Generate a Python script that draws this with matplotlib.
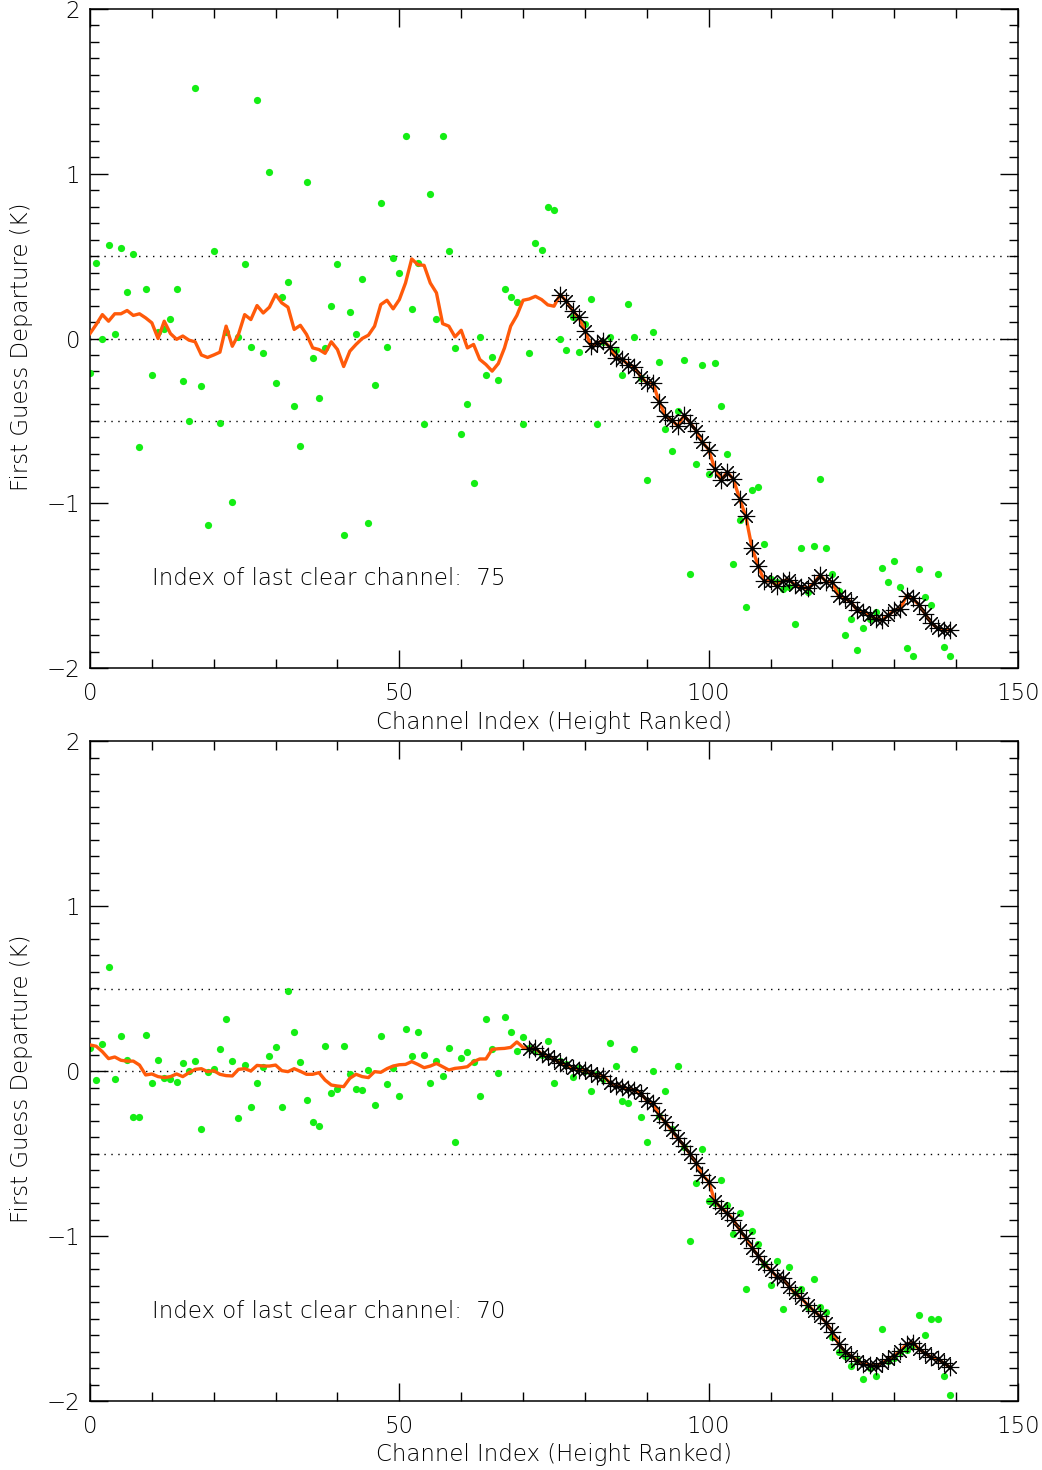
import numpy as np
import matplotlib
matplotlib.use("Agg")
import matplotlib.pyplot as plt

# Channel index (height ranked) and the last clear channel for each profile
channels = np.arange(140)
last_clear_1 = 75
last_clear_2 = 70

# Profile 1: observed first guess departures (K) per channel
obs_1 = [
    -0.21, 0.46, 0.00, 0.57, 0.03, 0.55, 0.28, 0.51, -0.66, 0.30,
    -0.22, 0.04, 0.06, 0.12, 0.30, -0.26, -0.50, 1.52, -0.29, -1.13,
    0.53, -0.51, 0.04, -0.99, 0.01, 0.45, -0.05, 1.45, -0.09, 1.01,
    -0.27, 0.25, 0.34, -0.41, -0.65, 0.95, -0.12, -0.36, -0.06, 0.20,
    0.45, -1.19, 0.16, 0.03, 0.36, -1.12, -0.28, 0.82, -0.05, 0.49,
    0.40, 1.23, 0.18, 0.46, -0.52, 0.88, 0.12, 1.23, 0.53, -0.06,
    -0.58, -0.40, -0.88, 0.01, -0.22, -0.11, -0.25, 0.30, 0.25, 0.22,
    -0.52, -0.09, 0.58, 0.54, 0.80, 0.78, 0.00, -0.07, 0.13, -0.08,
    0.09, 0.24, -0.52, -0.02, 0.01, -0.07, -0.22, 0.21, 0.01, -0.24,
    -0.86, 0.04, -0.14, -0.55, -0.68, -0.44, -0.13, -1.43, -0.76, -0.16,
    -0.82, -0.15, -0.41, -0.70, -1.37, -1.10, -1.63, -0.92, -0.90, -1.25,
    -1.46, -1.48, -1.52, -1.51, -1.73, -1.27, -1.54, -1.26, -0.85, -1.27,
    -1.43, -1.53, -1.80, -1.70, -1.89, -1.76, -1.70, -1.66, -1.39, -1.48,
    -1.35, -1.51, -1.88, -1.93, -1.40, -1.57, -1.62, -1.43, -1.87, -1.93,
]

# Profile 1: smoothed departures (K)
smooth_1 = [
    0.03, 0.085, 0.145, 0.105, 0.15, 0.15, 0.17, 0.14, 0.15, 0.125,
    0.095, 0.0, 0.105, 0.03, -0.005, 0.015, -0.01, -0.02, -0.10, -0.115,
    -0.10, -0.083, 0.075, -0.047, 0.025, 0.145, 0.115, 0.20, 0.155, 0.19,
    0.267, 0.216, 0.19, 0.055, 0.08, 0.025, -0.057, -0.067, -0.09, -0.02,
    -0.067, -0.17, -0.077, -0.036, 0.0, 0.02, 0.075, 0.206, 0.232, 0.18,
    0.236, 0.337, 0.483, 0.448, 0.444, 0.337, 0.277, 0.09, 0.075, 0.01,
    0.05, -0.057, -0.036, -0.127, -0.158, -0.198, -0.152, -0.057, 0.075, 0.14,
    0.232, 0.24, 0.256, 0.236, 0.204, 0.196, 0.267, 0.226, 0.168, 0.128,
    0.048, -0.046, -0.026, -0.016, -0.05, -0.12, -0.127, -0.158, -0.172, -0.232,
    -0.268, -0.273, -0.384, -0.47, -0.495, -0.53, -0.467, -0.511, -0.562, -0.63,
    -0.675, -0.792, -0.859, -0.81, -0.855, -0.972, -1.08, -1.27, -1.38, -1.473,
    -1.47, -1.50, -1.47, -1.465, -1.497, -1.51, -1.517, -1.485, -1.436, -1.477,
    -1.477, -1.566, -1.578, -1.598, -1.65, -1.66, -1.68, -1.70, -1.71, -1.68,
    -1.65, -1.64, -1.56, -1.578, -1.618, -1.673, -1.727, -1.76, -1.768, -1.768,
]

# Profile 2: observed first guess departures (K) per channel
obs_2 = [
    0.14, -0.055, 0.164, 0.632, -0.048, 0.214, 0.067, -0.277, -0.279, 0.22,
    -0.075, 0.069, -0.044, -0.046, -0.067, 0.046, 0.0, 0.06, -0.35, -0.004,
    0.014, 0.133, 0.313, 0.06, -0.287, 0.034, -0.216, -0.071, 0.026, 0.093,
    0.147, -0.218, 0.485, 0.234, 0.055, -0.176, -0.307, -0.335, 0.152, -0.131,
    -0.107, 0.154, -0.02, -0.109, -0.117, 0.004, -0.208, 0.214, -0.079, 0.016,
    -0.15, 0.255, 0.091, 0.234, 0.097, -0.075, 0.063, -0.032, 0.137, -0.428,
    0.081, 0.115, 0.057, -0.15, 0.315, 0.131, -0.014, 0.325, 0.234, 0.121,
    0.208, 0.14, 0.12, 0.10, 0.184, -0.075, 0.06, 0.04, -0.034, 0.02,
    0.0, -0.119, -0.02, -0.05, 0.168, 0.032, -0.184, -0.196, 0.131, -0.277,
    -0.43, 0.002, -0.27, -0.119, -0.35, 0.032, -0.46, -1.03, -0.68, -0.47,
    -0.79, -0.80, -0.66, -0.81, -0.99, -0.86, -1.32, -0.97, -1.05, -1.17,
    -1.295, -1.15, -1.44, -1.19, -1.34, -1.32, -1.43, -1.26, -1.43, -1.46,
    -1.61, -1.70, -1.73, -1.79, -1.75, -1.865, -1.80, -1.85, -1.565, -1.76,
    -1.74, -1.70, -1.69, -1.66, -1.48, -1.60, -1.505, -1.505, -1.85, -1.965,
]

# Profile 2: smoothed departures (K)
smooth_2 = [
    0.158, 0.15, 0.117, 0.075, 0.085, 0.065, 0.06, 0.06, 0.036, -0.024,
    -0.018, -0.034, -0.04, -0.034, -0.018, -0.034, -0.01, 0.01, 0.014, -0.004,
    0.002, -0.02, -0.028, -0.03, 0.01, 0.014, 0.0, 0.034, 0.03, 0.03,
    0.036, 0.002, -0.004, 0.014, -0.002, -0.02, -0.02, -0.01, -0.055, -0.085,
    -0.091, -0.095, -0.044, -0.02, -0.034, -0.04, -0.004, -0.008, 0.014, 0.03,
    0.038, 0.04, 0.057, 0.04, 0.02, 0.03, 0.046, 0.026, 0.006, 0.016,
    0.02, 0.026, 0.057, 0.073, 0.073, 0.131, 0.135, 0.137, 0.143, 0.176,
    0.143, 0.133, 0.137, 0.103, 0.091, 0.071, 0.05, 0.036, 0.016, 0.006,
    0.006, -0.01, -0.03, -0.03, -0.071, -0.091, -0.095, -0.111, -0.115, -0.135,
    -0.18, -0.196, -0.267, -0.31, -0.36, -0.408, -0.452, -0.505, -0.56, -0.63,
    -0.67, -0.79, -0.83, -0.86, -0.90, -0.964, -1.014, -1.07, -1.12, -1.17,
    -1.206, -1.247, -1.256, -1.307, -1.347, -1.378, -1.418, -1.453, -1.485, -1.525,
    -1.58, -1.655, -1.70, -1.727, -1.756, -1.776, -1.78, -1.788, -1.77, -1.747,
    -1.727, -1.695, -1.655, -1.646, -1.686, -1.711, -1.735, -1.747, -1.77, -1.796,
]

plt.rcParams["font.family"] = ["DejaVu Sans"]
plt.rcParams["font.weight"] = "light"

W, H = 1042, 1470
fig = plt.figure(figsize=(W / 100, H / 100), dpi=100)

FS = 16.5
GREEN = "#14ee14"
ORANGE = "#ff5a0a"


def draw_panel(ax, obs, smooth, last_clear):
    obs = np.asarray(obs)
    smooth = np.asarray(smooth)

    for yref in (0.5, 0.0, -0.5):
        ax.axhline(yref, color="black", lw=1.0, ls=(0, (1, 4)), zorder=1)

    ax.plot(channels, obs, "o", color=GREEN, ms=5.2, mew=0, zorder=2)
    ax.plot(channels, smooth, color=ORANGE, lw=2.4, zorder=3)

    cloudy = channels > last_clear
    ax.plot(channels[cloudy], smooth[cloudy], ls="none", marker=(8, 2, 0),
            ms=12.5, mew=0.8, color="black", zorder=4)

    ax.text(10, -1.455, f"Index of last clear channel:  {last_clear}",
            fontsize=FS, ha="left", va="center")

    ax.set_xlim(0, 150)
    ax.set_ylim(-2, 2)
    ax.set_xticks([0, 50, 100, 150])
    ax.set_xticks(np.arange(0, 151, 10), minor=True)
    ax.set_yticks([-2, -1, 0, 1, 2])
    ax.set_yticks(np.arange(-2, 2.01, 0.1), minor=True)
    ax.set_yticklabels(["\u22122", "\u22121", "0", "1", "2"])
    ax.tick_params(which="both", direction="in", top=True, right=True,
                   width=1.0, labelsize=FS)
    ax.tick_params(which="major", length=13)
    ax.tick_params(which="minor", length=6.5)
    ax.tick_params(axis="x", which="major", pad=10)
    ax.tick_params(axis="y", which="major", pad=7)
    for sp in ax.spines.values():
        sp.set_linewidth(1.1)


ax1 = fig.add_axes([90 / W, 1 - 668 / H, 928 / W, 659 / H])
ax2 = fig.add_axes([90 / W, 1 - 1401 / H, 928 / W, 660 / H])

draw_panel(ax1, obs_1, smooth_1, last_clear_1)
draw_panel(ax2, obs_2, smooth_2, last_clear_2)

for yc, xl in ((347, 722), (1079, 1455)):
    fig.text(22 / W, 1 - yc / H, "First Guess Departure (K)", rotation=90,
             ha="center", va="center", fontsize=FS)
    fig.text(554 / W, 1 - xl / H, "Channel Index (Height Ranked)",
             ha="center", va="center", fontsize=FS)

fig.savefig("out.png", dpi=100)
